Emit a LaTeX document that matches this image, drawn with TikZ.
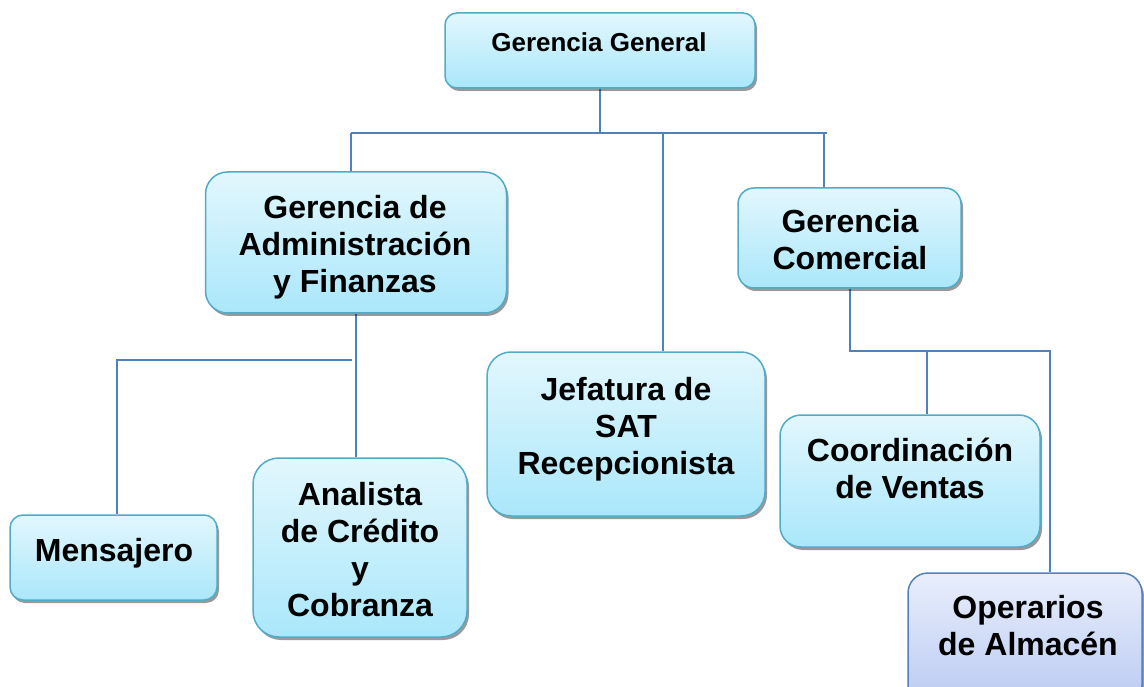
\documentclass[tikz,border=0pt]{standalone}
\usepackage{fontspec}
\setmainfont{Liberation Sans}
\usetikzlibrary{shadows,backgrounds}
\definecolor{linec}{RGB}{79,129,189}
\definecolor{cyantop}{RGB}{226,247,253}
\definecolor{cyanbot}{RGB}{170,231,251}
\definecolor{cyanedge}{RGB}{80,170,200}
\definecolor{lavtop}{RGB}{232,238,251}
\definecolor{lavbot}{RGB}{186,202,243}
\definecolor{lavedge}{RGB}{84,128,190}
\tikzset{
  orgbox/.style={draw=cyanedge, line width=1.5pt, top color=cyantop, bottom color=cyanbot,
    drop shadow={shadow xshift=2pt, shadow yshift=-3pt, fill=black, opacity=0.4},
    inner sep=0pt},
  lavbox/.style={orgbox, draw=lavedge, top color=lavtop, bottom color=lavbot},
  lbl/.style={align=center, inner sep=0pt, font=\bfseries\fontsize{32}{37}\selectfont},
  smalllbl/.style={align=center, inner sep=0pt, font=\bfseries\fontsize{26}{30}\selectfont},
  conn/.style={draw=linec, line width=1.5pt}
}
\begin{document}
\begin{tikzpicture}[x=1pt,y=-1pt]
\useasboundingbox (0,0) rectangle (1144,687);
\clip (0,0) rectangle (1144,687);
% boxes
\node[orgbox, minimum width=310pt, minimum height=75pt, rounded corners=12pt] (gg) at (600,50.5) {};
\node[orgbox, minimum width=301pt, minimum height=141pt, rounded corners=22pt] (gaf) at (356,242.5) {};
\node[orgbox, minimum width=223pt, minimum height=100pt, rounded corners=16pt] (gc) at (849.5,238) {};
\node[orgbox, minimum width=278pt, minimum height=164pt, rounded corners=24pt] (jef) at (626,434) {};
\node[orgbox, minimum width=260pt, minimum height=132pt, rounded corners=21pt] (cv) at (910,481) {};
\node[orgbox, minimum width=207pt, minimum height=85pt, rounded corners=13pt] (me) at (113.5,557.5) {};
\node[orgbox, minimum width=214pt, minimum height=179pt, rounded corners=26pt] (an) at (360,547.5) {};
\node[lavbox, minimum width=234pt, minimum height=132pt, rounded corners=20pt] (op) at (1025,639) {};
% labels
\node[smalllbl] (gg-t) at (599,42.6) {Gerencia General};
\node[lbl] (gaf-t) at (355,247) {Gerencia de\\Administración\\y Finanzas};
\node[lbl] (gc-t) at (850,239.5) {Gerencia\\Comercial};
\node[lbl] (jef-t) at (626,429) {Jefatura de\\SAT\\Recepcionista};
\node[lbl] (cv-t) at (910,468.5) {Coordinación\\de Ventas};
\node[lbl] (me-t) at (114,553) {Mensajero};
\node[lbl] (an-t) at (360,550) {Analista\\de Crédito\\y\\Cobranza};
\node[lbl] (op-t) at (1028,625.5) {Operarios\\de Almacén};
% connectors
\coordinate (b1) at (351,133);
\coordinate (b2) at (827,133);
\coordinate (bj) at (663,133);
\coordinate (bc) at (824,133);
\coordinate (m1) at (117,360);
\coordinate (m2) at (352,360);
\coordinate (c1) at (850,351);
\coordinate (c2) at (1050,351);
\coordinate (c3) at (927,351);
\begin{scope}[on background layer]
\draw[conn] (gg.south) -- (gg.south |- b1);
\draw[conn] (b1) -- (b2);
\draw[conn] (b1) -- (b1 |- gaf.north);
\draw[conn] (bj) -- (bj |- jef.north);
\draw[conn] (bc) -- (bc |- gc.north);
\draw[conn] (gaf.south) -- (gaf.south |- an.north);
\draw[conn] (m2) -- (m1) -- (m1 |- me.north);
\draw[conn] (c1 |- gc.south) -- (c1) -- (c2) -- (c2 |- op.north);
\draw[conn] (c3) -- (c3 |- cv.north);
\end{scope}
\end{tikzpicture}
\end{document}
